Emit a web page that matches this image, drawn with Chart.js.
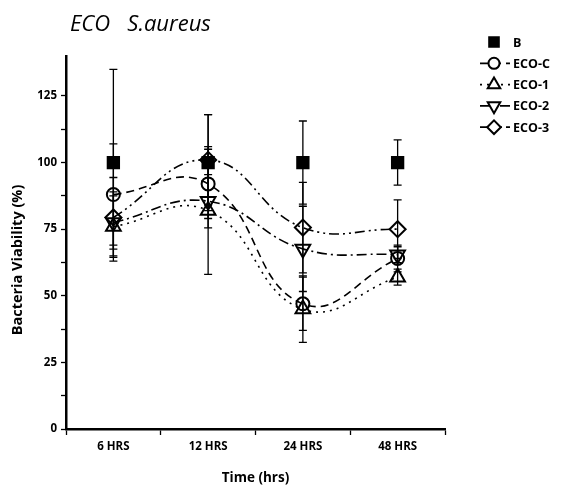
<!DOCTYPE html>
<html lang="en">
<head>
  <meta charset="UTF-8">
  <title>ECO S.aureus</title>
  <script src="https://cdn.jsdelivr.net/npm/chart.js"></script>
  <style>
    html, body { margin: 0; padding: 0; background: #fff; }
    #wrap { width: 565px; height: 490px; }
  </style>
</head>
<body>
  <div id="wrap"><canvas id="grafico" width="565" height="490"></canvas></div>

  <script>
    // valores
    const tempos = ["6 HRS", "12 HRS", "24 HRS", "48 HRS"];
    const serieNomes = ["B", "ECO-C", "ECO-1", "ECO-2", "ECO-3"];

    const valB  = [100, 100, 100, 100];
    const valC  = [88, 92, 47, 64];
    const val1  = [76, 82, 45, 57];
    const val2  = [77.5, 85.5, 67.6, 65.4];
    const val3  = [79.4, 101, 75.6, 75];

    const errB  = [35, 18, 15.6, 8.5];
    const errC  = [19, 13, 10, 5];
    const err1  = [13, 24, 12.5, 3];
    const err2  = [10, 10, 16, 3];
    const err3  = [15, 17, 17, 11];

    const yTicks = [0, 25, 50, 75, 100, 125];

    const F = "'Open Sans', Lato, sans-serif";

    function serie(i, dados, erros, estilo, rot, tracejado, raio) {
      return {
        label: serieNomes[i],
        data: dados,
        erros: erros,
        pointStyle: estilo,
        pointRotation: rot,
        pointRadius: raio,
        pointHoverRadius: raio,
        pointBorderWidth: 2,
        pointBorderColor: '#000',
        pointBackgroundColor: i === 0 ? '#000' : 'rgba(0,0,0,0)',
        borderColor: '#000',
        borderWidth: 1.6,
        borderDash: tracejado,
        showLine: i !== 0,
        tension: 0.45,
        fill: false
      };
    }

    // barras de erro desenhadas pelas escalas do próprio gráfico
    const barrasErro = {
      id: 'barrasErro',
      beforeDatasetsDraw(chart) {
        const ctx = chart.ctx;
        const x = chart.scales.x, y = chart.scales.y;
        ctx.save();
        ctx.strokeStyle = '#000';
        ctx.lineWidth = 1.3;
        ctx.setLineDash([]);
        chart.data.datasets.forEach(ds => {
          ds.data.forEach((v, j) => {
            const e = ds.erros[j];
            const px = x.getPixelForValue(j);
            const top = y.getPixelForValue(v + e);
            const bot = y.getPixelForValue(v - e);
            ctx.beginPath();
            ctx.moveTo(px, top); ctx.lineTo(px, bot);
            ctx.moveTo(px - 4, top); ctx.lineTo(px + 4, top);
            ctx.moveTo(px - 4, bot); ctx.lineTo(px + 4, bot);
            ctx.stroke();
          });
        });
        ctx.restore();
      }
    };

    // título, rótulo do eixo y e legenda
    const extras = {
      id: 'extras',
      afterDraw(chart) {
        const ctx = chart.ctx;
        ctx.save();
        ctx.fillStyle = '#000';
        ctx.font = "italic 22px " + F;
        ctx.textBaseline = 'middle';
        ctx.fillText("ECO   S.aureus", 70, 25);

        ctx.save();
        ctx.translate(18, 260);
        ctx.rotate(-Math.PI / 2);
        ctx.font = "bold 14.5px " + F;
        ctx.textAlign = 'center';
        ctx.fillText("Bacteria Viability (%)", 0, 0);
        ctx.restore();

        chart.data.datasets.forEach((ds, i) => {
          const ly = 42 + i * 21.3;
          const mx = 494;
          if (ds.showLine) {
            ctx.strokeStyle = '#000';
            ctx.lineWidth = 1.8;
            ctx.setLineDash(ds.borderDash);
            ctx.beginPath();
            ctx.moveTo(480, ly); ctx.lineTo(510, ly);
            ctx.stroke();
          }
          ctx.setLineDash([]);
          ctx.lineWidth = 2;
          ctx.strokeStyle = '#000';
          ctx.fillStyle = i === 0 ? '#000' : '#fff';
          Chart.helpers.drawPoint(ctx, {
            pointStyle: ds.pointStyle, radius: ds.pointRadius * 0.85, rotation: ds.pointRotation, borderWidth: 2
          }, mx, ly);
          if (i === 0) ctx.fill();
          ctx.fillStyle = '#000';
          ctx.font = "bold 12.5px " + F;
          ctx.textBaseline = 'middle';
          ctx.fillText(ds.label, 513, ly + 1);
        });
        ctx.restore();
      }
    };

    new Chart(document.getElementById('grafico').getContext('2d'), {
      type: 'line',
      data: {
        labels: tempos,
        datasets: [
          serie(0, valB, errB, 'rect', 0, [], 8),
          serie(1, valC, errC, 'circle', 0, [8, 5], 6.5),
          serie(2, val1, err1, 'triangle', 0, [2, 5], 8.5),
          serie(3, val2, err2, 'triangle', 180, [10, 4, 2, 4], 8.5),
          serie(4, val3, err3, 'rectRot', 0, [10, 4, 2, 4, 2, 4], 8)
        ]
      },
      options: {
        responsive: false,
        animation: false,
        layout: { padding: { top: 56, right: 120, left: 0, bottom: 0 } },
        plugins: {
          legend: { display: false },
          title: { display: false },
          tooltip: { enabled: false }
        },
        scales: {
          x: {
            offset: true,
            border: { color: '#000', width: 2.5 },
            grid: { offset: true, drawOnChartArea: false, drawTicks: true, tickLength: 6, color: '#000', tickWidth: 1.3 },
            ticks: { color: '#000', font: { family: F, weight: 'bold', size: 11.5 }, padding: 5 },
            title: { display: true, text: 'Time (hrs)', color: '#000', font: { family: F, weight: 'bold', size: 13.5 }, padding: { top: 12 } },
            afterFit(s) { s.height = 61; }
          },
          y: {
            min: 0,
            max: 140,
            border: { color: '#000', width: 2.5 },
            grid: { drawOnChartArea: false, drawTicks: true, tickLength: 5, color: '#000', tickWidth: 1.3 },
            ticks: {
              stepSize: 12.5,
              color: '#000',
              font: { family: F, weight: 'bold', size: 11.5 },
              padding: 4,
              callback: v => yTicks.includes(v) ? v : ''
            },
            afterBuildTicks(s) { s.ticks = s.ticks.filter(t => t.value % 12.5 === 0); },
            title: { display: false },
            afterFit(s) { s.width = 66; }
          }
        }
      },
      plugins: [barrasErro, extras]
    });
  </script>
</body>
</html>
